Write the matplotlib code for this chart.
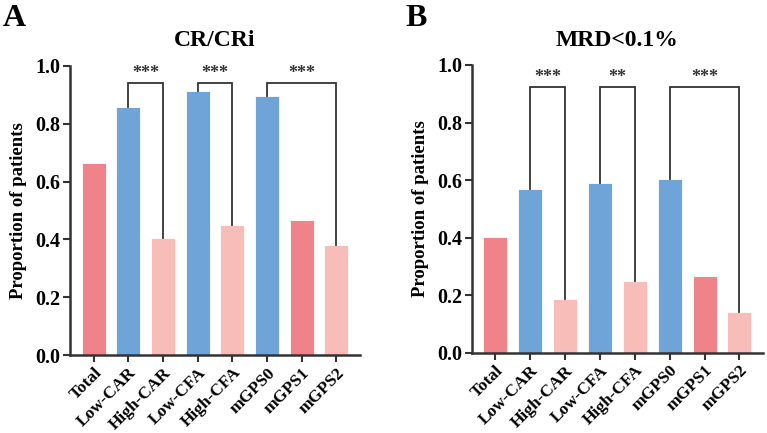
import matplotlib
matplotlib.use("Agg")
import matplotlib.pyplot as plt

plt.rcParams['font.family'] = ['Liberation Serif', 'DejaVu Serif']
plt.rcParams['font.weight'] = 'bold'

groups = ['Total', 'Low-CAR', 'High-CAR', 'Low-CFA', 'High-CFA', 'mGPS0', 'mGPS1', 'mGPS2']
cr_cri = [0.664, 0.858, 0.406, 0.913, 0.450, 0.896, 0.467, 0.381]
mrd = [0.404, 0.570, 0.188, 0.589, 0.250, 0.605, 0.266, 0.141]

# comparison pairs (bar index a, bar index b, label)
cr_sig = [(1, 2, '***'), (3, 4, '***'), (5, 7, '***')]
mrd_sig = [(1, 2, '***'), (3, 4, '**'), (5, 7, '***')]

red = '#F0838A'
blue = '#6FA4D8'
pink = '#F8BDB9'
colors = [red, blue, pink, blue, pink, blue, red, pink]
dark = '#333333'

fig = plt.figure(figsize=(7.67, 4.33), dpi=100)
axA = fig.add_axes([0.0913, 0.180, 0.378, 0.668])
axB = fig.add_axes([0.615, 0.185, 0.380, 0.665])


def draw(ax, vals, sig, top, title):
    x = range(len(groups))
    ax.bar(x, vals, width=0.69, color=colors, edgecolor='white', linewidth=0.6)
    ax.set_xlim(-0.68, 7.68)
    ax.set_ylim(0, 1.0)
    ax.set_yticks([0, 0.2, 0.4, 0.6, 0.8, 1.0])
    ax.set_yticklabels(['0.0', '0.2', '0.4', '0.6', '0.8', '1.0'], fontsize=14.5, fontweight='bold')
    ax.set_xticks(list(x))
    ax.set_xticklabels(groups, rotation=45, ha='right', rotation_mode='anchor',
                       fontsize=12.5, fontweight='bold')
    for s in ['top', 'right']:
        ax.spines[s].set_visible(False)
    for s in ['left', 'bottom']:
        ax.spines[s].set_color(dark)
        ax.spines[s].set_linewidth(1.8)
    ax.tick_params(axis='both', direction='out', length=5, width=1.5, color=dark, pad=2)
    ax.set_ylabel('Proportion of patients', fontsize=13.5, fontweight='bold', labelpad=6)
    ax.set_title(title, fontsize=17, fontweight='bold', pad=14)
    for a, b, lab in sig:
        ax.plot([a, a, b, b], [vals[a], top, top, vals[b]], color=dark, lw=1.3,
                solid_joinstyle='miter', clip_on=False)
        ax.text((a + b) / 2, top + 0.005, lab, ha='center', va='bottom',
                fontsize=13, fontweight='bold', color=dark)


draw(axA, cr_cri, cr_sig, 0.94, 'CR/CRi')
draw(axB, mrd, mrd_sig, 0.922, 'MRD<0.1%')

fig.text(0.004, 0.99, 'A', fontsize=23, fontweight='bold', va='top')
fig.text(0.529, 0.99, 'B', fontsize=23, fontweight='bold', va='top')

fig.savefig('out.png', dpi=100)
